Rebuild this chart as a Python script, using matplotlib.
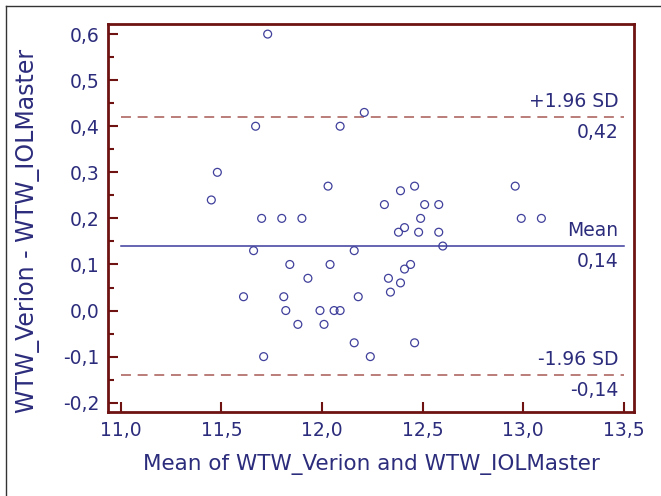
import matplotlib
matplotlib.use('Agg')
import matplotlib.pyplot as plt
from matplotlib.lines import Line2D

# Bland-Altman: WTW Verion vs IOLMaster
mean_wtw = [11.73, 12.21, 11.67, 12.09, 11.48, 11.45, 12.03, 11.70, 11.80, 11.90,
            11.66, 12.16, 11.84, 12.04, 11.93, 11.61, 11.81, 12.18, 11.82, 11.99,
            12.06, 12.09, 11.88, 12.01, 12.16, 11.71, 12.24, 12.31, 12.39, 12.46,
            12.51, 12.58, 12.96, 12.99, 13.09, 12.49, 12.38, 12.41, 12.48, 12.58,
            12.60, 12.44, 12.41, 12.33, 12.39, 12.34, 12.46]
diff_wtw = [0.60, 0.43, 0.40, 0.40, 0.30, 0.24, 0.27, 0.20, 0.20, 0.20,
            0.13, 0.13, 0.10, 0.10, 0.07, 0.03, 0.03, 0.03, 0.00, 0.00,
            0.00, 0.00, -0.03, -0.03, -0.07, -0.10, -0.10, 0.23, 0.26, 0.27,
            0.23, 0.23, 0.27, 0.20, 0.20, 0.20, 0.17, 0.18, 0.17, 0.17,
            0.14, 0.10, 0.09, 0.07, 0.06, 0.04, -0.07]
mean_diff = 0.14
upper_loa = 0.42
lower_loa = -0.14
x_ticks = [11.0, 11.5, 12.0, 12.5, 13.0, 13.5]
y_ticks = [-0.2, -0.1, 0.0, 0.1, 0.2, 0.3, 0.4, 0.5, 0.6]

navy = '#2c2c7c'
axis_red = '#6e1212'
dash_red = '#a85a55'
line_blue = '#3a3a9c'

plt.rcParams['font.family'] = 'DejaVu Sans'
fig = plt.figure(figsize=(6.61, 4.96), dpi=100)
ax = fig.add_axes([0.1638, 0.1700, 0.7953, 0.7817])

ax.scatter(mean_wtw, diff_wtw, s=32, facecolors='none', edgecolors='#40409c',
           linewidths=0.9, zorder=3)

x0, x1 = x_ticks[0], x_ticks[-1]
ax.plot([x0, x1], [mean_diff, mean_diff], color=line_blue, lw=1.1)
ax.plot([x0, x1], [upper_loa, upper_loa], color=dash_red, lw=1.1, dashes=(6.5, 4.4))
ax.plot([x0, x1], [lower_loa, lower_loa], color=dash_red, lw=1.1, dashes=(6.5, 4.4))

fs = 13.5
def fmt(v):
    return ('%.2f' % v).replace('.', ',')

ax.annotate('+1.96 SD', (x1, upper_loa), xytext=(-4, 4), textcoords='offset points',
            ha='right', va='bottom', color=navy, fontsize=fs)
ax.annotate(fmt(upper_loa), (x1, upper_loa), xytext=(-4, -4), textcoords='offset points',
            ha='right', va='top', color=navy, fontsize=fs)
ax.annotate('Mean', (x1, mean_diff), xytext=(-4, 4), textcoords='offset points',
            ha='right', va='bottom', color=navy, fontsize=fs)
ax.annotate(fmt(mean_diff), (x1, mean_diff), xytext=(-4, -4), textcoords='offset points',
            ha='right', va='top', color=navy, fontsize=fs)
ax.annotate('-1.96 SD', (x1, lower_loa), xytext=(-4, 4), textcoords='offset points',
            ha='right', va='bottom', color=navy, fontsize=fs)
ax.annotate(fmt(lower_loa), (x1, lower_loa), xytext=(-4, -4), textcoords='offset points',
            ha='right', va='top', color=navy, fontsize=fs)

ax.set_xlim(10.938, 13.55)
ax.set_ylim(-0.2195, 0.622)
ax.set_xticks(x_ticks)
ax.set_xticklabels([('%.1f' % t).replace('.', ',') for t in x_ticks])
ax.set_yticks(y_ticks)
ax.set_yticklabels([('%.1f' % t).replace('.', ',').replace('-0,0', '0,0') for t in y_ticks])
ax.set_yticks([t + 0.05 for t in y_ticks[:-1]], minor=True)

for s in ax.spines.values():
    s.set_color(axis_red)
    s.set_linewidth(2.0)
ax.tick_params(which='major', direction='in', length=7.5, width=1.5, color=axis_red,
               labelcolor=navy, labelsize=fs)
ax.tick_params(axis='x', which='major', pad=7)
ax.tick_params(axis='y', which='major', pad=6)
ax.tick_params(which='minor', direction='in', length=4.5, width=1.5, color=axis_red)

ax.set_xlabel('Mean of WTW_Verion and WTW_IOLMaster', color=navy, fontsize=15.5, va='center')
ax.xaxis.set_label_coords(0.5, -0.1375)
ax.set_ylabel('WTW_Verion - WTW_IOLMaster', color=navy, fontsize=17, va='center')
ax.yaxis.set_label_coords(-0.153, 0.466)

# thin frame from the cropped page
fig.add_artist(Line2D([6 / 661, 1], [1 - 6 / 496, 1 - 6 / 496], color='#333333', lw=1))
fig.add_artist(Line2D([6 / 661, 6 / 661], [0, 1 - 6 / 496], color='#333333', lw=1))

fig.savefig('out.png', dpi=100)
